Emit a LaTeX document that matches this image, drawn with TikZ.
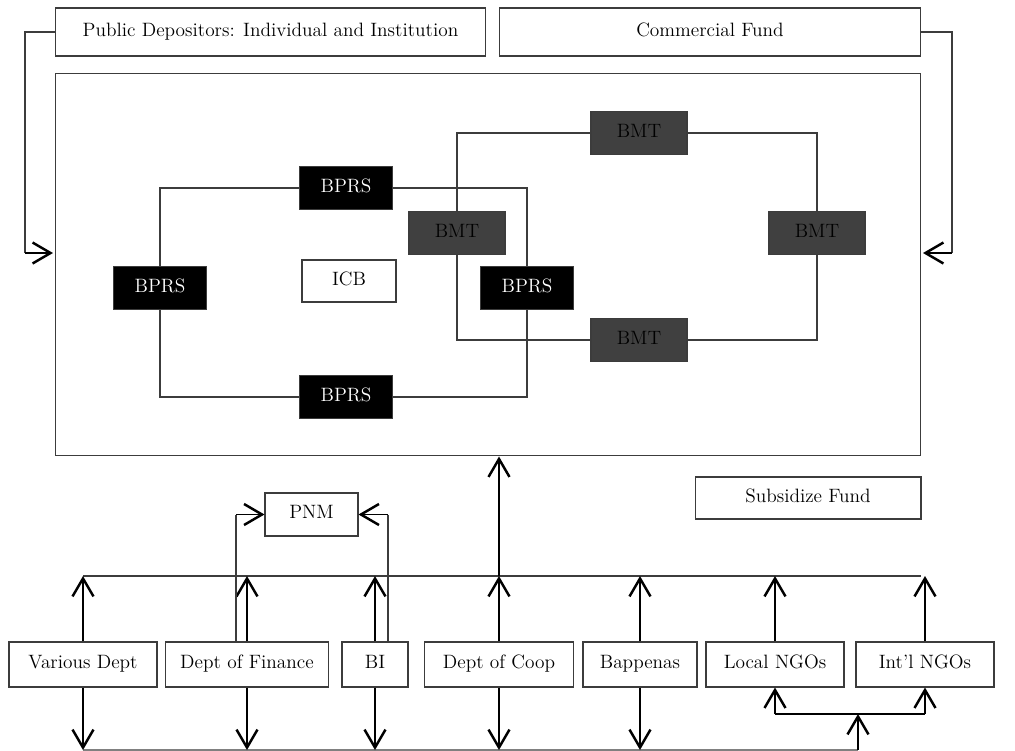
\documentclass[tikz,border=0pt]{standalone}
\usepackage{tikz}
\usetikzlibrary{positioning, arrows.meta, backgrounds}
\definecolor{bmtgray}{RGB}{64, 64, 64}
\definecolor{linegray}{RGB}{60, 60, 60}

\tikzset{
  box/.style={draw=linegray, line width=0.6pt, fill=white, inner sep=0pt,
    minimum height=0.86cm, text height=1.6ex, text depth=0.45ex,
    font=\fontsize{11}{13}\selectfont},
  bprs/.style={box, fill=black, text=white, minimum width=1.86cm},
  bmt/.style={box, fill=bmtgray, text=black, minimum width=1.92cm},
  dept/.style={box, minimum height=0.9cm},
  flow/.style={line width=1.4pt, ->},
  link/.style={line width=0.6pt, draw=linegray},
}

\begin{document}
\begin{tikzpicture}[x=0.02cm, y=-0.02cm, >={Straight Barb[length=0.36cm, width=0.42cm, line width=1.4pt]}]
    \useasboundingbox (0,0) rectangle (1015,751);
    \node[box, minimum width=8.62cm, minimum height=0.96cm] (pub) at (270.5,32) {Public Depositors: Individual and Institution};
    \node[box, minimum width=8.44cm, minimum height=0.96cm] (com) at (710,32) {Commercial Fund};
    \node[box, fill=none, minimum width=17.32cm, minimum height=7.66cm] (frame) at (488,264.5) {};

    \coordinate (lbend) at (25,32);  \coordinate (lin) at (53,253);
    \coordinate (rbend) at (952,32); \coordinate (rin) at (923,253);
    \draw[link] (pub.west) -- (lbend) -- (lbend |- lin);
    \draw[flow, line width=1pt] (lbend |- lin) -- (lin);
    \draw[link] (com.east) -- (rbend) -- (rbend |- rin);
    \draw[flow, line width=1pt] (rbend |- rin) -- (rin);

    % BPRS and BMT rings
    \node[bprs] (bprsT) at (346,188) {BPRS};
    \node[bprs] (bprsL) at (160,288) {BPRS};
    \node[bprs] (bprsR) at (527,288) {BPRS};
    \node[bprs] (bprsB) at (346,397) {BPRS};
    \node[box, minimum width=1.88cm, minimum height=0.84cm] (icb) at (349,281) {ICB};
    \node[bmt] (bmtT) at (639,133) {BMT};
    \node[bmt] (bmtL) at (457,233) {BMT};
    \node[bmt] (bmtR) at (817,233) {BMT};
    \node[bmt] (bmtB) at (639,340) {BMT};
    \begin{scope}[on background layer]
      \draw[link] (bprsL) |- (bprsT) -| (bprsR) |- (bprsB) -| (bprsL);
      \draw[link] (bmtL) |- (bmtT) -| (bmtR) |- (bmtB) -| (bmtL);
    \end{scope}

    \node[box, minimum width=1.86cm] (pnm) at (311.5,514.5) {PNM};
    \node[box, minimum width=4.52cm, minimum height=0.84cm] (sub) at (808,498) {Subsidize Fund};

    \node[dept, minimum width=2.96cm] (vd) at (83,664.5) {Various Dept};
    \node[dept, minimum width=3.26cm] (dof) at (247,664.5) {Dept of Finance};
    \node[dept, minimum width=1.32cm] (bi) at (375,664.5) {BI};
    \node[dept, minimum width=2.98cm] (coop) at (499,664.5) {Dept of Coop};
    \node[dept, minimum width=2.28cm] (bap) at (640,664.5) {Bappenas};
    \node[dept, minimum width=2.76cm] (lng) at (775,664.5) {Local NGOs};
    \node[dept, minimum width=2.76cm] (ing) at (925,664.5) {Int'l NGOs};

    \coordinate (busL) at (83,576);  \coordinate (busR) at (921,576);
    \coordinate (baseL) at (83,750); \coordinate (baseR) at (858,750);
    \draw[link] (busL) -- (busR);
    \draw[link, draw=gray] (baseL) -- (baseR);
    \foreach \n in {vd,dof,bi,coop,bap,lng,ing}
      \draw[flow] (\n.north) -- (\n.north |- busL);
    \foreach \n in {vd,dof,bi,coop,bap}
      \draw[flow] (\n.south) -- (\n.south |- baseL);
    \draw[flow] (coop.north |- busL) -- (coop.north |- frame.south);

    % PNM taps
    \coordinate (finTap) at ([xshift=-0.22cm]dof.north);
    \coordinate (biTap) at ([xshift=0.26cm]bi.north);
    \draw[link] (finTap) -- (finTap |- pnm.west);
    \draw[flow, line width=1pt] (finTap |- pnm.west) -- (pnm.west);
    \draw[link] (biTap) -- (biTap |- pnm.east);
    \draw[flow, line width=1pt] (biTap |- pnm.east) -- (pnm.east);

    \coordinate (ngoJ) at (858,714);
    \draw[flow] (baseR) -- (ngoJ);
    \draw[line width=0.8pt] (lng.south |- ngoJ) -- (ing.south |- ngoJ);
    \draw[flow] (lng.south |- ngoJ) -- (lng.south);
    \draw[flow] (ing.south |- ngoJ) -- (ing.south);
\end{tikzpicture}
\end{document}
